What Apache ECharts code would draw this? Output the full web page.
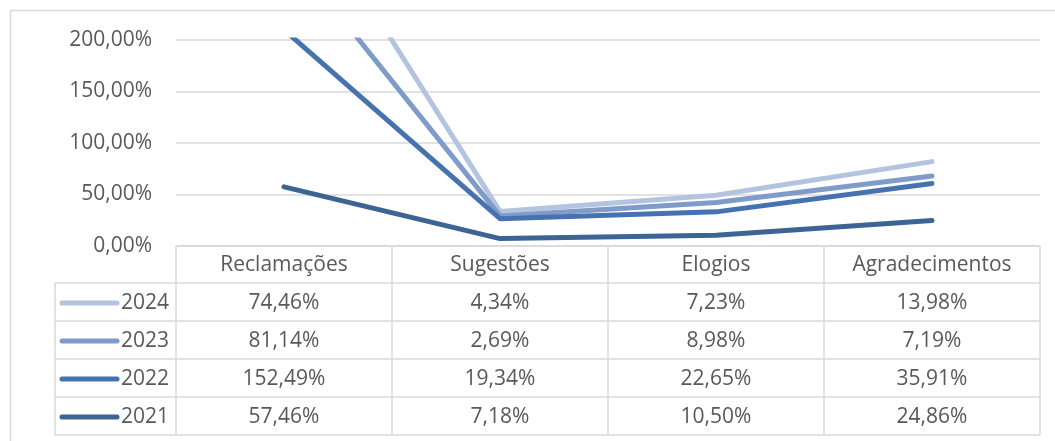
<!DOCTYPE html>
<html><head><meta charset="utf-8">
<script src="https://cdn.jsdelivr.net/npm/echarts@6/dist/echarts.min.js"></script>
<style>html,body{margin:0;padding:0;background:#fff}#c{width:1055px;height:441px}</style>
</head><body><div id="c"></div>
<script>
const categories = ['Reclamações', 'Sugestões', 'Elogios', 'Agradecimentos'];
const seriesNames = ['2024', '2023', '2022', '2021'];
const v2024 = [74.46, 4.34, 7.23, 13.98];
const v2023 = [81.14, 2.69, 8.98, 7.19];
const v2022 = [152.49, 19.34, 22.65, 35.91];
const v2021 = [57.46, 7.18, 10.50, 24.86];
const yTicks = [0, 50, 100, 150, 200];
const colors = {'2024': '#b4c4e0', '2023': '#7f9bca', '2022': '#4673b0', '2021': '#3c6495'};

const values = {'2024': v2024, '2023': v2023, '2022': v2022, '2021': v2021};
const fmt = v => v.toFixed(2).replace('.', ',') + '%';
const FONT = 'Open Sans';
const TXT = '#595959';
const LINE = '#d9d9d9';

const L = {plotLeft: 176, plotRight: 1040, plotTop: 40, plotBottom: 246, tableLeft: 55, headerH: 37, rowH: 38};

const chart = echarts.init(document.getElementById('c'), null, {renderer: 'canvas'});
// stacked order: 2021 bottom
const order = ['2021', '2022', '2023', '2024'];
const series = order.map(n => ({
  name: n, type: 'line', stack: 'total', data: values[n], symbol: 'none',
  lineStyle: {color: colors[n], width: 5, cap: 'round', join: 'round'},
  itemStyle: {color: colors[n]}, z: 10 - order.indexOf(n), clip: true
}));

chart.setOption({
  animation: false,
  grid: {left: L.plotLeft, top: L.plotTop, width: L.plotRight - L.plotLeft, height: L.plotBottom - L.plotTop, containLabel: false},
  xAxis: {type: 'category', data: categories, boundaryGap: true,
    axisLine: {show: true, lineStyle: {color: LINE, width: 1.5}}, axisTick: {show: false}, axisLabel: {show: false}},
  yAxis: {type: 'value', min: yTicks[0], max: yTicks[yTicks.length - 1], interval: yTicks[1] - yTicks[0],
    axisLine: {show: false}, axisTick: {show: false},
    splitLine: {lineStyle: {color: LINE, width: 1.5}},
    axisLabel: {formatter: fmt, color: TXT, fontFamily: FONT, fontSize: 21, margin: 24}},
  series: series
});

// Data table
const g = [];
const colW = (L.plotRight - L.plotLeft) / categories.length;
const headerBottom = L.plotBottom + L.headerH;
const tableBottom = headerBottom + L.rowH * seriesNames.length;
const ln = (x1, y1, x2, y2) => g.push({type: 'line', shape: {x1, y1, x2, y2}, style: {stroke: LINE, lineWidth: 1.5}, silent: true});
const txt = (x, y, t, align) => g.push({type: 'text', x, y, style: {text: t, fill: TXT, font: '21px "' + FONT + '"', align: align || 'center', verticalAlign: 'middle'}, silent: true});

// header
ln(L.plotLeft, L.plotBottom, L.plotLeft, tableBottom);
for (let i = 1; i <= categories.length; i++) ln(L.plotLeft + colW * i, L.plotBottom, L.plotLeft + colW * i, tableBottom);
categories.forEach((c, i) => {
  const cx = chart.convertToPixel({xAxisIndex: 0}, c);
  txt(cx, L.plotBottom + L.headerH / 2 + 1, c);
});
ln(L.tableLeft, headerBottom, L.plotRight, headerBottom);
ln(L.tableLeft, headerBottom, L.tableLeft, tableBottom);
seriesNames.forEach((n, r) => {
  const yTop = headerBottom + L.rowH * r;
  const cy = yTop + L.rowH / 2 + 1;
  ln(L.tableLeft, yTop + L.rowH, L.plotRight, yTop + L.rowH);
  g.push({type: 'line', shape: {x1: 62, y1: cy, x2: 117, y2: cy}, style: {stroke: colors[n], lineWidth: 5, lineCap: 'round'}, silent: true});
  txt(169, cy, n, 'right');
  values[n].forEach((v, i) => {
    const cx = chart.convertToPixel({xAxisIndex: 0}, categories[i]);
    txt(cx, cy, fmt(v));
  });
});
// chart border
g.push({type: 'polyline', shape: {points: [[10.5, 460], [10.5, 10.5], [1060, 10.5]]}, style: {stroke: LINE, lineWidth: 1.5, fill: null}, silent: true});
chart.setOption({graphic: {elements: g}});
</script></body></html>
